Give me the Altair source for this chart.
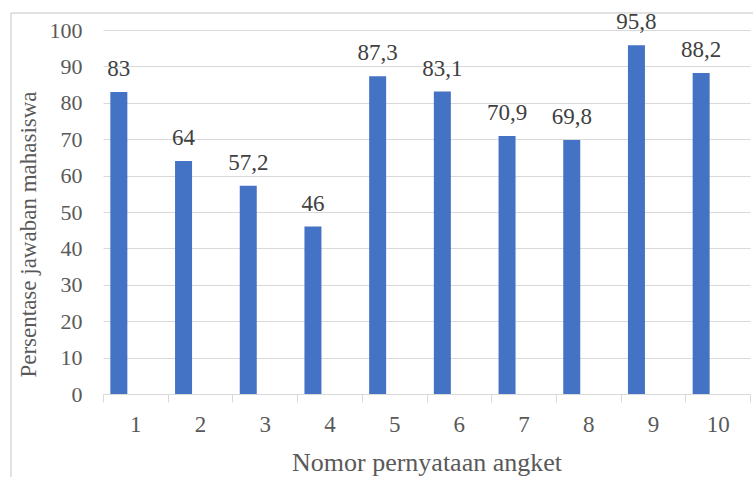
import altair as alt
import pandas as pd

categories = ["1", "2", "3", "4", "5", "6", "7", "8", "9", "10"]
values = [83, 64, 57.2, 46, 87.3, 83.1, 70.9, 69.8, 95.8, 88.2]
labels = ["83", "64", "57,2", "46", "87,3", "83,1", "70,9", "69,8", "95,8", "88,2"]
y_ticks = [0, 10, 20, 30, 40, 50, 60, 70, 80, 90, 100]

df = pd.DataFrame({"no": categories, "val": values, "lab": labels})

FONT = "Liberation Serif"
AX = "#595959"
GRID = "#d9d9d9"

x_enc = alt.X(
    "no:N",
    sort=categories,
    scale=alt.Scale(paddingInner=0, paddingOuter=0),
    axis=alt.Axis(
        title="Nomor pernyataan angket",
        labelAngle=0,
        tickBand="extent",
        tickSize=8,
        tickColor=GRID,
        domainColor=GRID,
        labelFont=FONT,
        labelFontSize=23,
        labelColor=AX,
        labelBaseline="alphabetic",
        labelPadding=29,
        titleFont=FONT,
        titleFontSize=26,
        titleFontWeight="normal",
        titleColor=AX,
        titleBaseline="alphabetic",
        titleY=76,
        grid=False,
    ),
)
y_enc = alt.Y(
    "val:Q",
    scale=alt.Scale(domain=[0, 100], nice=False),
    axis=alt.Axis(
        title="Persentase jawaban mahasiswa",
        values=y_ticks,
        labelOverlap=False,
        ticks=False,
        tickSize=0,
        domain=False,
        grid=True,
        gridColor=GRID,
        labelFont=FONT,
        labelFontSize=22,
        labelFontWeight="normal",
        labelColor=AX,
        labelPadding=21,
        titleFont=FONT,
        titleFontSize=23,
        titleFontWeight="normal",
        titleColor=AX,
        titleBaseline="middle",
        titleAlign="center",
        titleAngle=-90,
        titleX=-75,
        titleY=204,
    ),
)

bars = alt.Chart(df).mark_bar(width=17, xOffset=-16.5, color="#4472C4").encode(x=x_enc, y=y_enc)
text = alt.Chart(df).mark_text(
    xOffset=-16.5, dy=-16, baseline="alphabetic", font=FONT, fontSize=23,
    fontWeight="normal", color="#404040"
).encode(x=x_enc, y=y_enc, text="lab:N")

frame = alt.Data(values=[{"a": 0}])
vline = alt.Chart(frame).mark_rule(color=GRID, strokeWidth=1.5).encode(
    x=alt.value(-92), y=alt.value(-17), y2=alt.value(460)
)
hline = alt.Chart(frame).mark_rule(color=GRID, strokeWidth=1.5).encode(
    x=alt.value(-92), x2=alt.value(660), y=alt.value(-17)
)

chart = (
    alt.layer(vline, hline, bars, text)
    .properties(
        width=647,
        height=364,
        autosize=alt.AutoSizeParams(type="none"),
        padding={"left": 103, "top": 30, "right": 3, "bottom": 83},
        background="white",
    )
    .configure(font=FONT)
    .configure_axis(labelFont=FONT, titleFont=FONT)
    .configure_text(font=FONT)
    .configure_view(stroke=None)
)

chart.save("out.html", embed_options={"renderer": "svg", "actions": False})
